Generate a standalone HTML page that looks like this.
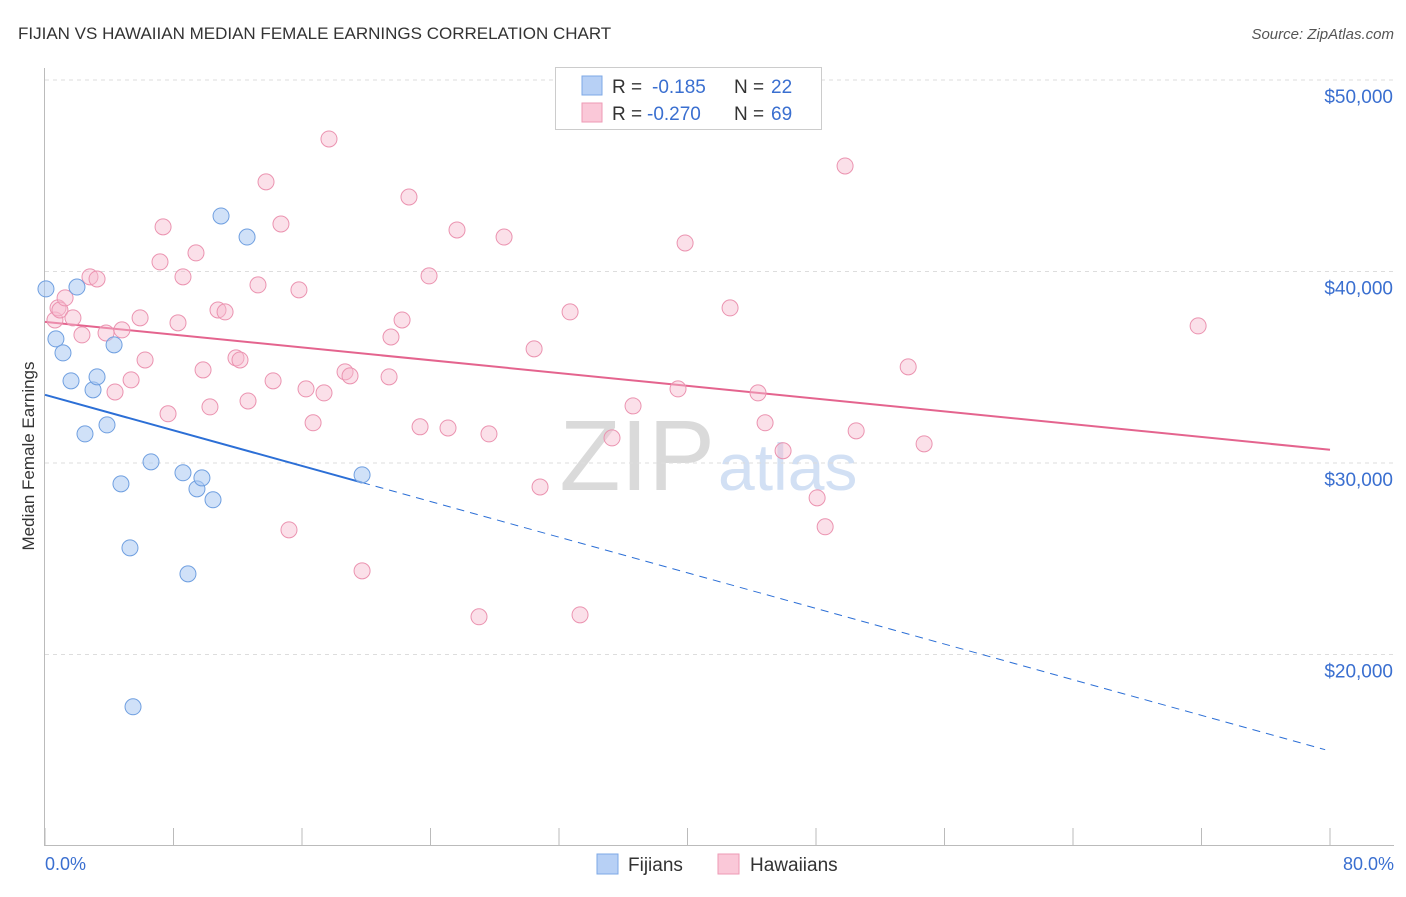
<!DOCTYPE html>
<html><head><meta charset="utf-8"><style>
body{margin:0;background:#fff;font-family:"Liberation Sans",sans-serif;}
svg text{font-family:"Liberation Sans",sans-serif;}
</style></head><body>
<svg id="chart" width="1406" height="892" xmlns="http://www.w3.org/2000/svg">
<text x="18" y="39" font-size="17" fill="#333">FIJIAN VS HAWAIIAN MEDIAN FEMALE EARNINGS CORRELATION CHART</text>
<text x="1394" y="39" font-size="15" fill="#555" text-anchor="end" font-style="italic">Source: ZipAtlas.com</text>
<g>
<text x="715" y="490" font-size="100" fill="#dadada" text-anchor="end" font-family="Liberation Serif">ZIP</text>
<text x="718" y="490" font-size="66" fill="#d2e0f4" text-anchor="start">atlas</text>
</g>
<g id="grid"></g><g id="axes"></g><g id="trends"></g><g id="points"></g>
<g>
<rect x="555.5" y="67.5" width="266" height="62" fill="#fff" stroke="#ccc"/>
<rect x="582" y="76" width="20" height="19" fill="#b7d0f5" stroke="#7ea8e6"/>
<rect x="582" y="103" width="20" height="19" fill="#fac8d8" stroke="#ee9ab5"/>
<text x="612" y="93" font-size="19" fill="#333">R = </text><text x="652" y="93" font-size="19" fill="#3a6fd0">-0.185</text>
<text x="734" y="93" font-size="19" fill="#333">N = </text><text x="771" y="93" font-size="19" fill="#3a6fd0">22</text>
<text x="612" y="120" font-size="19" fill="#333">R = </text><text x="647" y="120" font-size="19" fill="#3a6fd0">-0.270</text>
<text x="734" y="120" font-size="19" fill="#333">N = </text><text x="771" y="120" font-size="19" fill="#3a6fd0">69</text>
</g>
<g>
<rect x="597" y="854" width="21" height="20" fill="#b7d0f5" stroke="#7ea8e6"/>
<text x="628" y="871" font-size="19" fill="#333">Fijians</text>
<rect x="718" y="854" width="21" height="20" fill="#fac8d8" stroke="#ee9ab5"/>
<text x="750" y="871" font-size="19" fill="#333">Hawaiians</text>
</g>
<text transform="translate(34,456) rotate(-90)" font-size="17" fill="#333" text-anchor="middle">Median Female Earnings</text>
<text x="45" y="870" font-size="18" fill="#3a6fd0">0.0%</text>
<text x="1394" y="870" font-size="18" fill="#3a6fd0" text-anchor="end">80.0%</text>
</svg>
<script>
const yTicks=[20000,30000,40000,50000];
const yTickLabels=["$20,000","$30,000","$40,000","$50,000"];
const xTicks=[0,8,16,24,32,40,48,56,64,72,80];
const fijianX=[0.06,0.68,1.12,1.62,1.99,2.49,2.99,3.24,3.86,4.30,4.73,5.29,5.48,6.60,8.59,8.90,9.46,9.77,10.46,10.96,12.58,19.74];
const fijianY=[39090,36480,35750,34290,39190,31520,33820,34500,31990,36170,28910,25570,17270,30060,29490,24210,28650,29220,28080,42900,41800,29380];
const hawX=[0.62,0.81,0.93,1.25,1.74,2.30,2.80,3.24,3.80,4.36,4.79,5.36,5.92,6.23,7.16,7.35,7.66,8.28,8.59,9.40,9.84,10.27,10.77,11.21,11.89,12.14,12.64,13.26,13.76,14.20,14.69,15.19,15.81,16.25,16.69,17.37,17.68,18.68,18.99,19.74,21.42,21.54,22.23,22.66,23.35,23.91,25.09,25.65,27.02,27.64,28.58,30.45,30.82,32.69,33.31,35.30,36.61,39.41,39.85,42.65,44.39,44.83,45.95,48.07,48.57,49.81,50.50,53.74,54.73,71.79];
const hawY=[37470,38100,37990,38620,37580,36690,39720,39610,36790,33710,36950,34340,37580,35380,40500,42330,32570,37320,39720,40970,34860,32930,37990,37890,35490,35380,33240,39300,44680,34290,42480,26510,39040,33870,32100,33660,46920,34760,34550,24370,34500,36580,37470,43890,31890,39770,31830,42170,21970,31520,41800,35960,28750,37890,22070,31310,32980,33870,41490,38100,33660,32100,30640,28180,26670,45510,31680,35020,31000,37160];
const fijianTrend=[[0,33560],[19.74,28980],[79.7,15030]];
const hawTrend=[[0,37370],[80,30690]];

const NS="http://www.w3.org/2000/svg";
const X=v=>45+v*(1285/80);
const Y=v=>80+(50000-v)/10000*191.5;
function mk(tag,attrs,parent){const e=document.createElementNS(NS,tag);for(const k in attrs)e.setAttribute(k,attrs[k]);parent.appendChild(e);return e;}
const grid=document.getElementById('grid'),axes=document.getElementById('axes'),trends=document.getElementById('trends'),pts=document.getElementById('points');
yTicks.forEach((t,i)=>{
 const l=mk('line',{x1:45,x2:1394,y1:Y(t),y2:Y(t),stroke:'#ddd','stroke-dasharray':'4,4'},grid);
 
 
 const tx=mk('text',{x:1393,y:Y(t)+23,'font-size':19,fill:'#3a6fd0','text-anchor':'end'},grid);
 tx.textContent=yTickLabels[i];
 
 
});
const ax=mk('line',{x1:44.5,x2:44.5,y1:68,y2:845,stroke:'#bbb'},axes);


const bx=mk('line',{x1:44,x2:1394,y1:845.5,y2:845.5,stroke:'#bbb'},axes);


xTicks.forEach(t=>{
 const l=mk('line',{x1:X(t),x2:X(t),y1:828,y2:845,stroke:'#bbb'},axes);
 
 
});
const fs=mk('line',{x1:X(fijianTrend[0][0]),y1:Y(fijianTrend[0][1]),x2:X(fijianTrend[1][0]),y2:Y(fijianTrend[1][1]),stroke:'#2c6fd6','stroke-width':2},trends);


const fd=mk('line',{x1:X(fijianTrend[1][0]),y1:Y(fijianTrend[1][1]),x2:X(fijianTrend[2][0]),y2:Y(fijianTrend[2][1]),stroke:'#2c6fd6','stroke-width':1,'stroke-dasharray':'8,6'},trends);


const hl=mk('line',{x1:X(hawTrend[0][0]),y1:Y(hawTrend[0][1]),x2:X(hawTrend[1][0]),y2:Y(hawTrend[1][1]),stroke:'#e4648e','stroke-width':2},trends);


hawX.forEach((v,i)=>{
 const c=mk('circle',{cx:X(v),cy:Y(hawY[i]),r:8,fill:'rgba(247,186,206,0.45)',stroke:'#eb93b0','stroke-width':1},pts);
 
 
});
fijianX.forEach((v,i)=>{
 const c=mk('circle',{cx:X(v),cy:Y(fijianY[i]),r:8,fill:'rgba(170,200,242,0.55)',stroke:'#6f9fe0','stroke-width':1},pts);
 
 
});
</script>
</body></html>
